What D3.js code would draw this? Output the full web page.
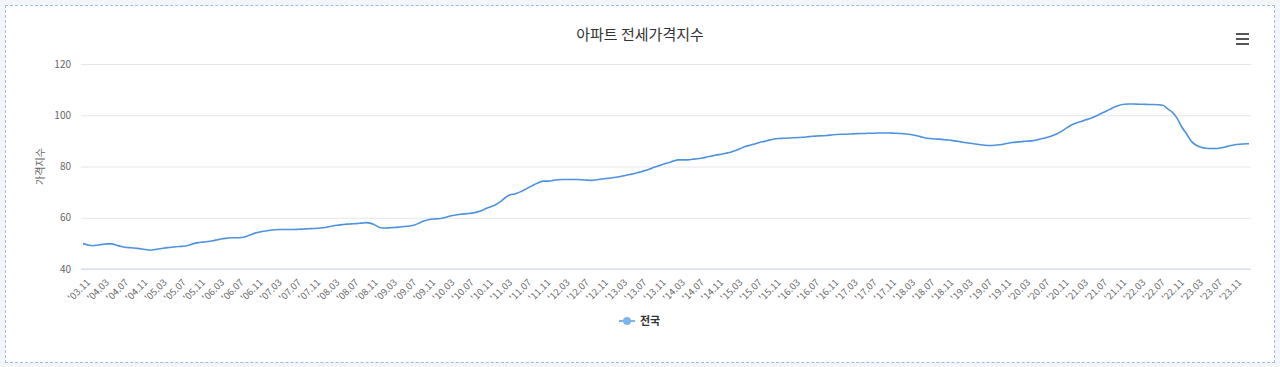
<!DOCTYPE html>
<html>
<head>
<meta charset="utf-8">
<script src="https://cdn.jsdelivr.net/npm/d3@7"></script>
<style>
  html, body { margin: 0; padding: 0; background: #f2f6fa; }
  #container { position: absolute; left: 5px; top: 5px; width: 1268px; height: 356px;
    background: #fff; border: 1px dashed #9dbbe0; }
  text { font-family: "Noto Sans CJK KR", "Noto Sans", sans-serif; }
</style>
</head>
<body>
<div id="container"></div>
<script>
// DATA
const title = "아파트 전세가격지수";
const seriesName = "전국";
const yTitle = "가격지수";
const startYear = 2003, startMonth = 11;
const yTicks = [40, 60, 80, 100, 120];

// monthly index values, 2003.11 .. 2024.02
const values = [
  49.9, 49.4,                                                             // 2003
  49.1, 49.3, 49.6, 49.8, 49.8, 49.3, 48.8, 48.4, 48.3, 48.1, 47.9, 47.6, // 2004
  47.3, 47.6, 47.9, 48.2, 48.4, 48.6, 48.8, 48.9, 49.3, 49.9, 50.3, 50.5, // 2005
  50.7, 51.0, 51.4, 51.8, 52.0, 52.2, 52.2, 52.3, 52.7, 53.4, 54.1, 54.5, // 2006
  54.8, 55.1, 55.3, 55.4, 55.4, 55.4, 55.4, 55.5, 55.6, 55.7, 55.8, 55.9, // 2007
  56.1, 56.4, 56.8, 57.1, 57.3, 57.5, 57.6, 57.7, 57.9, 58.1, 57.8, 57.0, // 2008
  56.1, 56.0, 56.1, 56.2, 56.4, 56.6, 56.8, 57.1, 57.9, 58.7, 59.2, 59.5, // 2009
  59.6, 59.9, 60.4, 60.9, 61.2, 61.4, 61.6, 61.8, 62.2, 62.7, 63.6, 64.3, // 2010
  65.1, 66.3, 67.8, 69.0, 69.3, 70.0, 70.9, 71.9, 72.9, 73.8, 74.3, 74.3, // 2011
  74.6, 74.8, 74.9, 74.9, 74.9, 74.9, 74.8, 74.7, 74.6, 74.8, 75.1, 75.3, // 2012
  75.5, 75.8, 76.1, 76.5, 76.9, 77.3, 77.8, 78.3, 78.9, 79.7, 80.3, 81.0, // 2013
  81.5, 82.1, 82.6, 82.6, 82.6, 82.8, 83.0, 83.3, 83.7, 84.1, 84.5, 84.8, // 2014
  85.2, 85.6, 86.2, 87.0, 87.8, 88.3, 88.8, 89.4, 89.8, 90.3, 90.7, 90.9, // 2015
  91.0, 91.1, 91.2, 91.3, 91.4, 91.6, 91.8, 91.9, 92.0, 92.1, 92.3, 92.5, // 2016
  92.6, 92.6, 92.7, 92.8, 92.9, 92.9, 93.0, 93.0, 93.1, 93.1, 93.1, 93.0, // 2017
  92.9, 92.8, 92.6, 92.3, 91.9, 91.4, 91.0, 90.8, 90.7, 90.6, 90.4, 90.2, // 2018
  89.9, 89.6, 89.3, 89.1, 88.8, 88.5, 88.3, 88.2, 88.3, 88.5, 88.8, 89.2, // 2019
  89.4, 89.6, 89.8, 89.9, 90.1, 90.5, 90.9, 91.4, 92.0, 92.8, 93.8, 95.1, // 2020
  96.2, 97.0, 97.6, 98.2, 98.8, 99.6, 100.5, 101.4, 102.3, 103.2, 103.9, 104.3, // 2021
  104.4, 104.4, 104.3, 104.3, 104.2, 104.2, 104.1, 103.9, 102.6, 101.2, 98.9, 95.4, // 2022
  92.7, 89.8, 88.3, 87.5, 87.1, 87.0, 87.0, 87.2, 87.6, 88.1, 88.5, 88.7, // 2023
  88.8, 88.9                                                              // 2024
];

// month categories like '03.11
const categories = values.map((v, i) => {
  const m = startMonth - 1 + i;
  const y = startYear + Math.floor(m / 12);
  const mm = (m % 12) + 1;
  return "'" + String(y % 100).padStart(2, "0") + "." + String(mm).padStart(2, "0");
});

// CONSTANTS
const width = 1268, height = 356;
const margin = { top: 58, bottom: 93, left: 75, right: 23 };
const lineColor = "#4d92e0";

const svg = d3.select("#container")
  .append("svg")
  .attr("width", width)
  .attr("height", height)
  .style("display", "block");

// SCALES
const xScale = d3.scaleLinear()
  .domain([0, values.length - 1])
  .range([margin.left + 2, width - margin.right - 2]);

const yScale = d3.scaleLinear()
  .domain([40, 120])
  .range([height - margin.bottom, margin.top]);

// TITLE
svg.append("text")
  .attr("x", width / 2)
  .attr("y", 34)
  .attr("text-anchor", "middle")
  .attr("fill", "#333")
  .style("font-size", "15px")
  .text(title);

// menu icon
[0, 5, 10].forEach(dy => {
  svg.append("line")
    .attr("x1", 1230).attr("x2", 1243)
    .attr("y1", 28 + dy).attr("y2", 28 + dy)
    .attr("stroke", "#555").attr("stroke-width", 2);
});

// GRID + Y AXIS
const yAxis = d3.axisLeft(yScale)
  .tickValues(yTicks)
  .tickSize(-(width - margin.left - margin.right))
  .tickPadding(10);

const yAxisGroup = svg.append("g")
  .attr("class", "yAxis")
  .attr("transform", `translate(${margin.left}, 0)`)
  .call(yAxis);

yAxisGroup.select(".domain").remove();
yAxisGroup.selectAll(".tick line").attr("stroke", "#e6e6e6");
yAxisGroup.selectAll(".tick text")
  .attr("fill", "#666")
  .style("font-size", "10px");

svg.append("text")
  .attr("transform", `translate(38, ${yScale(80)}) rotate(-90)`)
  .attr("text-anchor", "middle")
  .attr("fill", "#666")
  .style("font-size", "10px")
  .text(yTitle);

// X AXIS
const xTickIdx = d3.range(0, values.length, 4);
const xAxis = d3.axisBottom(xScale)
  .tickValues(xTickIdx)
  .tickSize(0)
  .tickFormat(i => categories[i]);

const xAxisGroup = svg.append("g")
  .attr("class", "xAxis")
  .attr("transform", `translate(0, ${height - margin.bottom})`)
  .call(xAxis);

xAxisGroup.select(".domain")
  .attr("d", `M${margin.left},0H${width - margin.right}`)
  .attr("stroke", "#ccd6eb");

xAxisGroup.selectAll(".tick text")
  .attr("fill", "#666")
  .style("font-size", "9.5px")
  .attr("text-anchor", "end")
  .attr("dy", 0)
  .attr("transform", "translate(5, 12) rotate(-45)");

// LINE
const line = d3.line()
  .x((d, i) => xScale(i))
  .y(d => yScale(d))
  .curve(d3.curveMonotoneX);

svg.append("path")
  .datum(values)
  .attr("fill", "none")
  .attr("stroke", lineColor)
  .attr("stroke-width", 1.6)
  .attr("d", line);

// LEGEND
const legend = svg.append("g")
  .attr("transform", `translate(${width / 2 - 21}, 315)`);

legend.append("line")
  .attr("x1", 0).attr("x2", 16)
  .attr("stroke", "#7cb5ec").attr("stroke-width", 2);

legend.append("circle")
  .attr("cx", 8).attr("r", 4)
  .attr("fill", "#7cb5ec");

legend.append("text")
  .attr("x", 21)
  .attr("y", 4)
  .attr("fill", "#333")
  .style("font-size", "11px")
  .style("font-weight", "bold")
  .text(seriesName);
</script>
</body>
</html>
